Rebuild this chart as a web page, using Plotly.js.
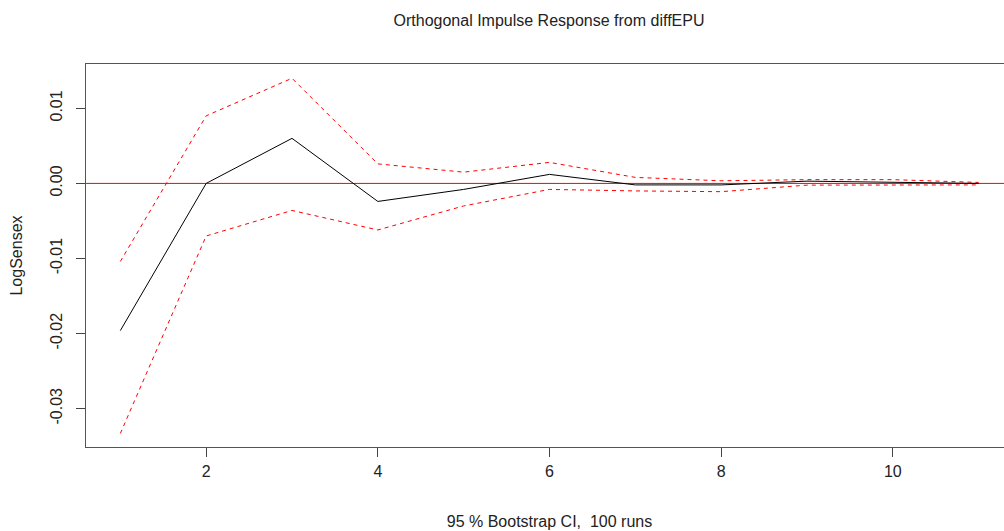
<!DOCTYPE html>
<html>
<head>
<meta charset="utf-8">
<script src="https://cdn.plot.ly/plotly-3.0.1.min.js"></script>
<style>
html,body{margin:0;padding:0;overflow:hidden;background:#fff;}
#chart{width:1020px;height:531px;}
</style>
</head>
<body>
<div id="chart"></div>
<script>
const horizon = [1, 2, 3, 4, 5, 6, 7, 8, 9, 10, 11];
const irf   = [-0.0196, 0.0000, 0.0060, -0.0024, -0.0008, 0.0012, -0.0002, -0.0002, 0.0003, 0.00013, 0.0000];
const upper = [-0.0104, 0.0090, 0.0140, 0.0026, 0.0015, 0.0028, 0.0008, 0.00035, 0.0005, 0.0005, 0.00013];
const lower = [-0.0333, -0.0070, -0.0036, -0.0062, -0.0030, -0.0008, -0.0010, -0.0011, -0.00023, -0.0002, -0.0002];
const xTicks = [2, 4, 6, 8, 10];
const yTicks = [-0.03, -0.02, -0.01, 0, 0.01];
const yTickText = ['-0.03', '-0.02', '-0.01', '0.00', '0.01'];

const font = {family: 'Liberation Sans, Arial, sans-serif', size: 16, color: '#222'};

const traces = [
  {x: [0.6, 11.4], y: [0, 0], mode: 'lines', line: {color: '#ff0000', width: 1}, hoverinfo: 'skip', showlegend: false},
  {x: horizon, y: upper, mode: 'lines', line: {color: '#ff0000', width: 1, dash: '4px,4px'}, showlegend: false},
  {x: horizon, y: lower, mode: 'lines', line: {color: '#ff0000', width: 1, dash: '4px,4px'}, showlegend: false},
  {x: horizon, y: irf, mode: 'lines', line: {color: '#000000', width: 1}, showlegend: false}
];

const layout = {
  width: 1020, height: 531,
  margin: {l: 86, r: 7, t: 64, b: 84.3, pad: 0},
  paper_bgcolor: '#fff', plot_bgcolor: '#fff',
  font: font,
  title: {text: 'Orthogonal Impulse Response from diffEPU', font: font, x: 549/1020, xanchor: 'center', y: 1 - 20/531, yanchor: 'middle'},
  xaxis: {
    range: [0.6, 11.4], tickvals: xTicks, ticktext: xTicks.map(String),
    ticks: 'outside', ticklen: 9, tickcolor: '#444', tickwidth: 1,
    showgrid: false, zeroline: false, showline: true, mirror: true, linecolor: '#555', linewidth: 1,
    ticklabelstandoff: 1,
    title: {text: '95 % Bootstrap CI,  100 runs', font: font, standoff: 36}
  },
  yaxis: {
    range: [-0.0351, 0.0159], tickvals: yTicks, ticktext: yTickText, tickangle: -90,
    ticks: 'outside', ticklen: 9, tickcolor: '#444', tickwidth: 1,
    showgrid: false, zeroline: false, showline: true, mirror: true, linecolor: '#555', linewidth: 1,
    ticklabelstandoff: 8,
    title: {text: 'LogSensex', font: font, standoff: 20}
  }
};

Plotly.newPlot('chart', traces, layout, {displayModeBar: false, staticPlot: true});
</script>
</body>
</html>
